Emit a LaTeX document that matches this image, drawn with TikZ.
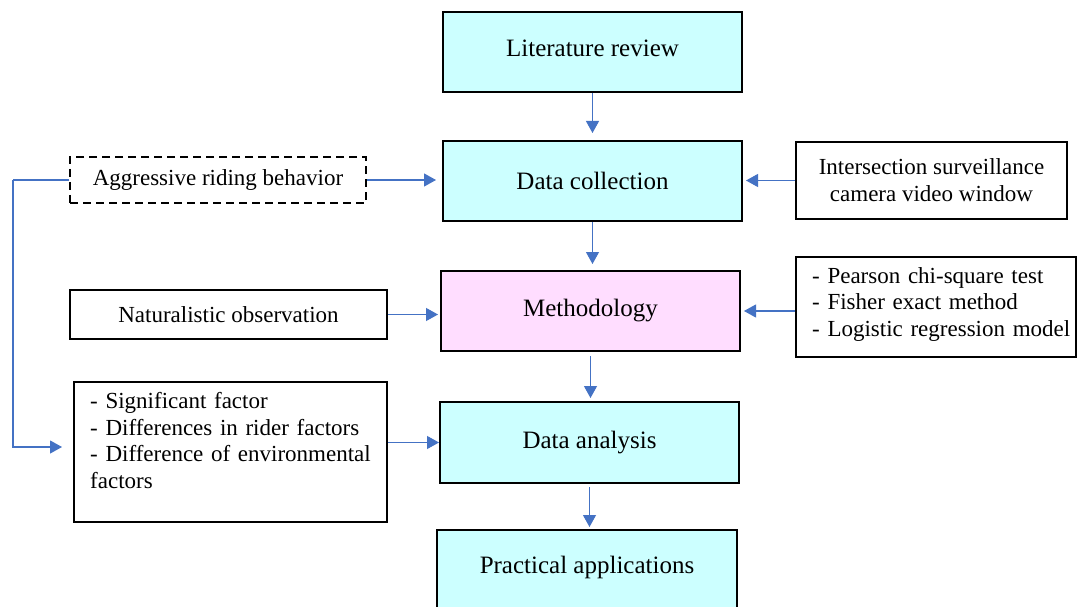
\documentclass[tikz,border=0pt]{standalone}
\usepackage{fontspec}
\setmainfont{Liberation Serif}
\usetikzlibrary{arrows.meta,positioning}
\definecolor{boxcyan}{HTML}{CCFFFF}
\definecolor{boxpink}{HTML}{FFDDFF}
\definecolor{arrblue}{HTML}{4472C4}
\tikzset{
  mainbox/.style={draw=black, line width=2pt, rectangle, inner sep=0pt, align=center,
    font=\fontsize{25}{29}\selectfont},
  sidebox/.style={draw=black, line width=2pt, rectangle, inner sep=0pt, align=center,
    font=\fontsize{23}{27}\selectfont},
  arr/.style={draw=arrblue, line width=1.1pt, -{Triangle[length=12pt,width=13pt]}},
  listtext/.style={inner sep=0pt, align=left, anchor=north west, text width=290pt,
    font=\fontsize{23}{26.7}\selectfont}
}
\begin{document}
\begin{tikzpicture}[x=1pt,y=-1pt]
\clip (0,0) rectangle (1077,607);
\fill[white] (0,0) rectangle (1077,607);
% main column
\node[mainbox, fill=boxcyan, minimum width=299pt, minimum height=80pt] (lit) at (592.5,52) {};
\node[font=\fontsize{25}{29}\selectfont] (littxt) at (592.5,48) {Literature review};
\node[mainbox, fill=boxcyan, minimum width=299pt, minimum height=80pt] (dc) at (592.5,181) {Data collection};
\node[mainbox, fill=boxpink, minimum width=299pt, minimum height=80pt] (meth) at (590.5,311) {Methodology};
\node[mainbox, fill=boxcyan, minimum width=299pt, minimum height=81pt] (da) at (589.5,442.5) {Data analysis};
\node[mainbox, fill=boxcyan, minimum width=300pt, minimum height=82pt] (pa) at (587,571) {};
\node[font=\fontsize{25}{29}\selectfont] (patxt) at (587,567) {Practical applications};
% left side
\node[sidebox, dashed, dash pattern=on 8pt off 5pt, minimum width=296pt, minimum height=46pt] (agg) at (218,180) {Aggressive riding behavior};
\node[sidebox, minimum width=317pt, minimum height=49pt] (nat) at (228.5,314.5) {Naturalistic observation};
\node[sidebox, minimum width=313pt, minimum height=140pt] (sig) at (230.5,452) {};
\node[listtext] (sigtxt) at (90,392) {- Significant factor\\- Differences in rider factors\\- Difference of environmental\\factors};
% right side
\node[sidebox, minimum width=271pt, minimum height=77pt] (inter) at (931.5,180.5) {Intersection surveillance\\camera video window};
\node[sidebox, minimum width=280pt, minimum height=100pt] (pear) at (936,307) {};
\node[listtext, text width=260pt] (peartxt) at (812,267) {- Pearson chi-square test\\- Fisher exact method\\- Logistic regression model};
% connectors
\coordinate (lx) at (13,180);
\coordinate (sigin) at (62,447);
\draw[arr] (lit.south) -- ([yshift=7pt]dc.north);
\draw[arr] (dc.south) -- ([yshift=6pt]dc.south |- meth.north);
\draw[arr] ([yshift=-4pt]meth.south) -- ([yshift=3pt]meth.south |- da.north);
\draw[arr] ([yshift=-3pt]da.south) -- ([yshift=2pt]da.south |- pa.north);
\draw[arr] (agg.east) -- ([xshift=-6pt]agg.east -| dc.west);
\draw[arr] (nat.east) -- ([xshift=-2pt]nat.east -| meth.west);
\draw[arr] (sig.east |- da.west) -- (da.west);
\draw[arr] (inter.west) -- ([xshift=3pt]inter.west -| dc.east);
\draw[arr] (pear.west |- meth.east) -- ([xshift=3pt]meth.east);
\draw[draw=arrblue, line width=1.1pt] (agg.west) -- (lx);
\draw[arr] (lx) |- (sigin);
\end{tikzpicture}
\end{document}
